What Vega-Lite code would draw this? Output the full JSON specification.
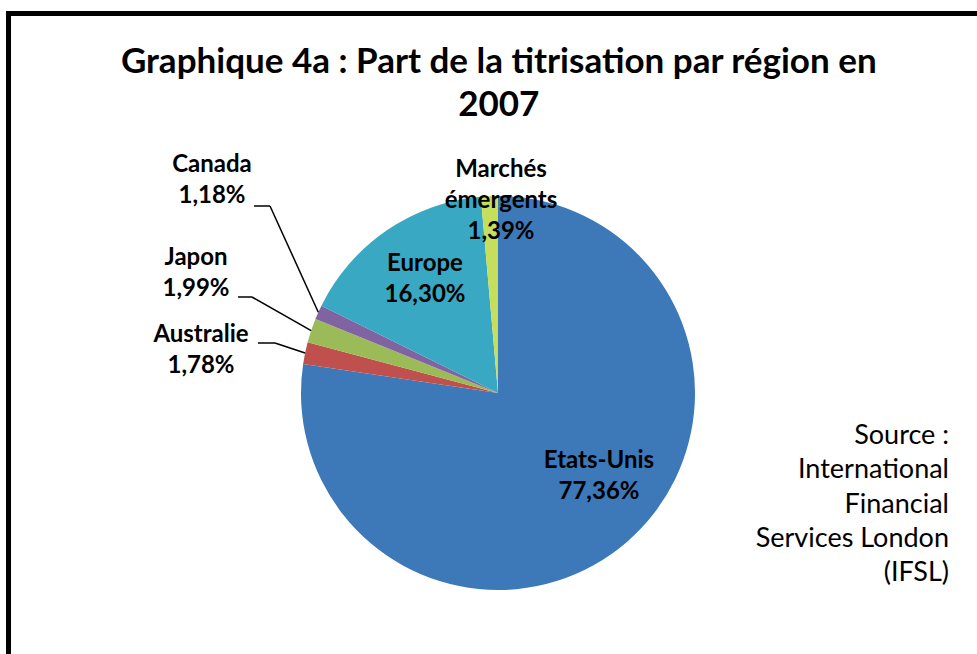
{
  "$schema": "https://vega.github.io/schema/vega-lite/v6.json",
  "autosize": {"type": "fit", "contains": "padding"},
  "width": 977,
  "height": 654,
  "padding": {"left": 8.5, "top": 13.5, "right": -12, "bottom": -12},
  "background": "white",
  "config": {
    "view": {"stroke": "black", "strokeWidth": 5},
    "font": "Lato"
  },
  "title": {
    "text": ["Graphique 4a : Part de la titrisation par région en", "2007"],
    "font": "Lato",
    "fontSize": 35,
    "fontWeight": "bold",
    "lineHeight": 43,
    "color": "black",
    "anchor": "middle",
    "baseline": "bottom",
    "offset": -144
  },
  "data": {
    "values": [
      {"region": "Etats-Unis", "share": 77.36, "ord": 1},
      {"region": "Australie", "share": 1.78, "ord": 2},
      {"region": "Japon", "share": 1.99, "ord": 3},
      {"region": "Canada", "share": 1.18, "ord": 4},
      {"region": "Europe", "share": 16.30, "ord": 5},
      {"region": "Marchés émergents", "share": 1.39, "ord": 6}
    ]
  },
  "transform": [
    {"window": [{"op": "sum", "field": "share", "as": "cum"}], "sort": [{"field": "ord", "order": "ascending"}], "frame": [null, 0]},
    {"calculate": "2 * PI * (datum.cum - datum.share / 2) / 100", "as": "mid"},
    {"calculate": "datum.region + ' ' + replace(format(datum.share, '.2f'), '.', ',') + '%'", "as": "label"},
    {"calculate": "197 * sin(datum.mid)", "as": "sx"},
    {"calculate": "-197 * cos(datum.mid)", "as": "sy"},
    {"calculate": "datum.region === 'Etats-Unis' ? 101 : datum.region === 'Europe' ? -73 : datum.region === 'Marchés émergents' ? 3 : datum.region === 'Canada' ? -286 : datum.region === 'Japon' ? -302 : -297", "as": "lx"},
    {"calculate": "datum.region === 'Etats-Unis' ? 56 : datum.region === 'Europe' ? -141 : datum.region === 'Marchés émergents' ? -235 : datum.region === 'Canada' ? -240 : datum.region === 'Japon' ? -147 : -70", "as": "ly"},
    {"calculate": "datum.region === 'Canada' ? -244 : datum.region === 'Japon' ? -260 : datum.region === 'Australie' ? -240 : null", "as": "ax"},
    {"calculate": "datum.region === 'Canada' ? -228 : datum.region === 'Japon' ? -246 : datum.region === 'Australie' ? -223 : null", "as": "ex"},
    {"calculate": "datum.region === 'Canada' ? -187 : datum.region === 'Japon' ? -96 : datum.region === 'Australie' ? -50 : null", "as": "ay"}
  ],
  "layer": [
    {
      "mark": {"type": "arc", "outerRadius": 197, "stroke": null},
      "encoding": {
        "x": {"datum": 0, "type": "quantitative", "scale": {"domain": [-489.5, 491], "nice": false, "zero": false}, "axis": null},
        "y": {"datum": 0, "type": "quantitative", "scale": {"domain": [-379.5, 273], "nice": false, "zero": false, "reverse": true}, "axis": null},
        "theta": {"field": "share", "type": "quantitative", "stack": true},
        "order": {"field": "ord", "type": "quantitative"},
        "color": {
          "field": "region",
          "type": "nominal",
          "scale": {
            "domain": ["Etats-Unis", "Australie", "Japon", "Canada", "Europe", "Marchés émergents"],
            "range": ["#3D78B8", "#C0504D", "#9BBB59", "#8064A2", "#39A8C3", "#C5DE5C"]
          },
          "legend": null
        }
      }
    },
    {
      "transform": [{"filter": "isValid(datum.ax)"}],
      "mark": {"type": "rule", "color": "black", "strokeWidth": 1.5},
      "encoding": {
        "x": {"field": "ax", "type": "quantitative", "scale": {"domain": [-489.5, 491], "nice": false, "zero": false}, "axis": null},
        "x2": {"field": "ex"},
        "y": {"field": "ay", "type": "quantitative", "scale": {"domain": [-379.5, 273], "nice": false, "zero": false, "reverse": true}, "axis": null},
        "y2": {"field": "ay"}
      }
    },
    {
      "transform": [{"filter": "isValid(datum.ax)"}],
      "mark": {"type": "rule", "color": "black", "strokeWidth": 1.5},
      "encoding": {
        "x": {"field": "ex", "type": "quantitative", "scale": {"domain": [-489.5, 491], "nice": false, "zero": false}, "axis": null},
        "x2": {"field": "sx"},
        "y": {"field": "ay", "type": "quantitative", "scale": {"domain": [-379.5, 273], "nice": false, "zero": false, "reverse": true}, "axis": null},
        "y2": {"field": "sy"}
      }
    },
    {
      "mark": {"type": "text", "font": "Lato", "fontSize": 24, "fontWeight": "bold", "lineHeight": 31, "align": "center", "baseline": "top", "lineBreak": " ", "color": "black"},
      "encoding": {
        "x": {"field": "lx", "type": "quantitative", "scale": {"domain": [-489.5, 491], "nice": false, "zero": false}, "axis": null},
        "y": {"field": "ly", "type": "quantitative", "scale": {"domain": [-379.5, 273], "nice": false, "zero": false, "reverse": true}, "axis": null},
        "text": {"field": "label", "type": "nominal"}
      }
    },
    {
      "data": {"values": [{"source": "Source :|International|Financial|Services London|(IFSL)"}]},
      "mark": {"type": "text", "font": "Lato", "fontSize": 27, "lineHeight": 34.3, "align": "right", "baseline": "top", "lineBreak": "|", "color": "black"},
      "encoding": {
        "x": {"datum": 451, "type": "quantitative", "scale": {"domain": [-489.5, 491], "nice": false, "zero": false}, "axis": null},
        "y": {"datum": 30, "type": "quantitative", "scale": {"domain": [-379.5, 273], "nice": false, "zero": false, "reverse": true}, "axis": null},
        "text": {"field": "source", "type": "nominal"}
      }
    }
  ]
}
